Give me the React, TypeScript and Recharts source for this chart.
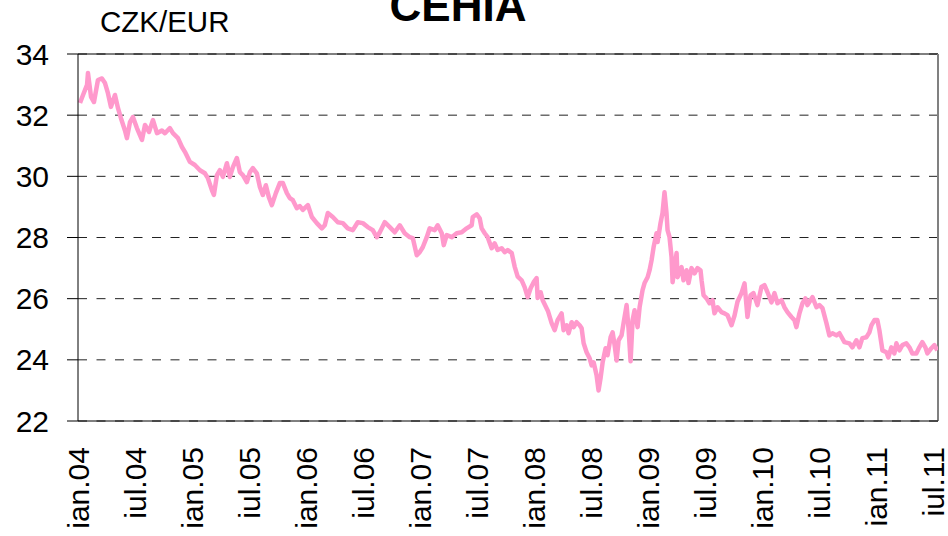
import { LineChart, Line, XAxis, YAxis, CartesianGrid, ReferenceLine } from 'recharts';

// months since ian.04 (fractional) and CZK per EUR
const months = [
  0.21, 0.53, 0.95, 1.05, 1.37, 1.68, 2.1, 2.52, 2.84, 3.15, 3.47, 3.89, 4.21, 4.52, 4.94, 5.15,
  5.47, 5.78, 6.2, 6.73, 7.05, 7.47, 7.89, 8.31, 8.83, 9.15, 9.67, 9.99, 10.52, 10.94, 11.25, 11.78,
  12.3, 12.83, 13.35, 13.67, 14.09, 14.3, 14.62, 14.93, 15.25, 15.67, 15.98, 16.3, 16.72, 17.03,
  17.35, 17.77, 18.09, 18.4, 18.82, 19.14, 19.45, 19.77, 20.08, 20.4, 20.82, 21.24, 21.56, 21.98,
  22.29, 22.61, 23.03, 23.34, 23.66, 24.19, 24.61, 25.13, 25.66, 25.97, 26.29, 26.81, 27.34, 27.87,
  28.39, 28.92, 29.44, 29.97, 30.49, 31.02, 31.44, 31.76, 32.28, 32.81, 33.33, 33.86, 34.38, 34.91,
  35.23, 35.65, 35.96, 36.28, 36.7, 37.01, 37.54, 37.85, 38.28, 38.49, 38.8, 39.33, 39.85, 40.38,
  40.9, 41.43, 41.54, 41.96, 42.27, 42.48, 42.8, 43.11, 43.53, 43.85, 44.16, 44.58, 44.9, 45.22,
  45.64, 45.95, 46.27, 46.69, 47.0, 47.32, 47.63, 47.95, 48.26, 48.37, 48.69, 48.9, 49.45, 49.84,
  50.16, 50.47, 50.89, 51.1, 51.42, 51.63, 51.95, 52.16, 52.47, 52.79, 53.0, 53.21, 53.52, 53.84,
  54.05, 54.26, 54.57, 54.78, 54.99, 55.21, 55.52, 55.73, 56.05, 56.26, 56.47, 56.68, 56.89, 57.2,
  57.41, 57.73, 57.94, 58.15, 58.36, 58.57, 58.89, 59.1, 59.41, 59.62, 59.94, 60.15, 60.36, 60.57,
  60.88, 60.99, 61.3, 61.51, 61.72, 61.93, 62.04, 62.25, 62.46, 62.57, 62.99, 63.09, 63.51, 63.72,
  64.04, 64.25, 64.56, 64.88, 65.19, 65.51, 65.62, 65.83, 66.14, 66.46, 66.77, 66.98, 67.3, 67.72,
  68.03, 68.35, 68.77, 69.09, 69.4, 69.82, 70.14, 70.45, 70.77, 71.08, 71.5, 71.92, 72.24, 72.56,
  72.98, 73.29, 73.61, 74.03, 74.34, 74.66, 75.08, 75.39, 75.6, 75.92, 76.24, 76.55, 76.76, 77.08,
  77.29, 77.71, 78.02, 78.34, 78.76, 79.07, 79.39, 79.81, 80.13, 80.65, 81.18, 81.49, 81.91, 82.23,
  82.54, 82.97, 83.28, 83.49, 83.81, 84.12, 84.33, 84.54, 84.65, 85.07, 85.28, 85.59, 85.91, 86.12,
  86.44, 86.75, 87.17, 87.49, 87.8, 88.22, 88.54, 88.85, 89.17, 89.38, 89.8, 90.12, 90.43,
];

const czkEur = [
  32.4, 32.66, 32.99, 33.38, 32.6, 32.43, 33.15, 33.2, 33.05, 32.72, 32.27, 32.66, 32.23, 31.9, 31.5, 31.25,
  31.77, 31.94, 31.58, 31.19, 31.68, 31.45, 31.84, 31.41, 31.5, 31.41, 31.58, 31.41, 31.25, 30.96, 30.8, 30.47,
  30.37, 30.2, 30.1, 29.94, 29.55, 29.39, 30.04, 30.2, 29.98, 30.43, 29.98, 30.3, 30.6, 30.14,
  30.04, 29.81, 30.14, 30.27, 30.1, 29.65, 29.39, 29.71, 29.32, 29.06, 29.45, 29.78, 29.78, 29.45,
  29.29, 29.22, 28.96, 29.03, 28.9, 29.06, 28.67, 28.47, 28.3, 28.4, 28.8, 28.67, 28.5, 28.47,
  28.3, 28.24, 28.5, 28.47, 28.34, 28.24, 28.01, 28.17, 28.5, 28.34, 28.17, 28.4, 28.14, 28.01,
  27.98, 27.42, 27.52, 27.68, 28.01, 28.3, 28.24, 28.4, 28.14, 27.75, 28.08, 28.01, 28.14, 28.17,
  28.3, 28.4, 28.67, 28.76, 28.63, 28.3, 28.14, 28.01, 27.65, 27.81, 27.59, 27.65, 27.52, 27.59,
  27.49, 27.05, 26.72, 26.6, 26.38, 26.05, 26.34, 26.54, 26.67, 26.02, 26.21, 25.95, 25.6, 25.2,
  24.97, 25.3, 25.52, 24.97, 25.13, 24.87, 25.23, 25.07, 25.23, 25.13, 25.03, 24.54, 24.25, 24.05,
  23.82, 23.92, 23.5, 23.0, 23.4, 23.92, 24.38, 24.15, 24.74, 24.9, 24.48, 23.98, 24.64, 24.8,
  25.2, 25.79, 25.0, 23.95, 25.3, 25.62, 25.07, 25.72, 26.28, 26.51, 26.7, 26.93, 27.26, 27.68,
  28.14, 27.85, 28.47, 28.8, 29.48, 28.8, 28.24, 28.01, 27.36, 26.54, 27.49, 26.7, 27.03, 26.6,
  26.93, 26.51, 27.0, 26.83, 27.0, 26.93, 26.6, 26.11, 26.01, 25.85, 25.95, 25.52, 25.72, 25.56,
  25.52, 25.46, 25.13, 25.45, 25.9, 26.18, 26.5, 25.4, 26.11, 26.18, 25.79, 26.38, 26.44, 26.21,
  25.88, 26.18, 25.85, 25.95, 25.72, 25.56, 25.4, 25.3, 25.07, 25.52, 25.85, 26.01, 25.79, 25.95,
  26.05, 25.72, 25.79, 25.69, 25.2, 24.8, 24.87, 24.8, 24.87, 24.58, 24.54, 24.41, 24.64, 24.41,
  24.71, 24.74, 24.9, 25.13, 25.3, 25.3, 24.97, 24.54, 24.31, 24.25, 24.08, 24.41, 24.21, 24.54,
  24.31, 24.48, 24.54, 24.41, 24.21, 24.21, 24.41, 24.58, 24.41, 24.21, 24.38, 24.48, 24.31,
];

const tickMonths = [0, 6, 12, 18, 24, 30, 36, 42, 48, 54, 60, 66, 72, 78, 84, 90];
const tickLabels = [
  'ian.04', 'iul.04', 'ian.05', 'iul.05', 'ian.06', 'iul.06', 'ian.07', 'iul.07',
  'ian.08', 'iul.08', 'ian.09', 'iul.09', 'ian.10', 'iul.10', 'ian.11', 'iul.11',
];
const rateTicks = [22, 24, 26, 28, 30, 32, 34];

const FONT = '"Liberation Sans", Arial, sans-serif';
const X_MAX = 90.5;

function MonthTick({ x, y, payload }: any) {
  const idx = tickMonths.indexOf(payload.value);
  return (
    <text
      x={x}
      y={y}
      transform={`rotate(-90 ${x} ${y})`}
      textAnchor="end"
      dy="0.36em"
      fontSize={30}
      fontFamily={FONT}
      fill="#000"
    >
      {idx >= 0 ? tickLabels[idx] : ''}
    </text>
  );
}

export default function App() {
  const data = months.map((m, i) => ({ m, rate: czkEur[i] }));

  return (
    <div style={{ position: 'absolute', left: 0, top: 0, width: 948, height: 536, background: '#fff' }}>
      <svg width={948} height={60} style={{ position: 'absolute', left: 0, top: 0 }}>
        <text x={458} y={21} textAnchor="middle" fontSize={44} fontWeight="bold" fontFamily={FONT} fill="#000">
          CEHIA
        </text>
        <text x={100} y={32} fontSize={29.5} fontFamily={FONT} fill="#000">
          CZK/EUR
        </text>
      </svg>
      <LineChart width={948} height={536} data={data} margin={{ top: 54, right: 10, bottom: 0, left: 0 }}>
        <CartesianGrid vertical={false} stroke="#222" strokeDasharray="9 9.5" />
        <XAxis
          dataKey="m"
          type="number"
          domain={[0, X_MAX]}
          ticks={tickMonths}
          allowDataOverflow
          height={115}
          tickLine={false}
          tickMargin={20}
          stroke="#000"
          tick={<MonthTick />}
          interval={0}
        />
        <YAxis
          domain={[22, 34]}
          ticks={rateTicks}
          width={78}
          tickSize={11}
          tickMargin={18}
          stroke="#000"
          tick={{ fontSize: 30, fontFamily: FONT, fill: '#000' }}
          allowDataOverflow
        />
        <ReferenceLine y={34} stroke="#000" strokeWidth={1} />
        <ReferenceLine x={X_MAX} stroke="#808080" strokeWidth={2} />
        <Line
          type="linear"
          dataKey="rate"
          stroke="#FF99CC"
          strokeWidth={4.5}
          strokeLinejoin="round"
          dot={false}
          isAnimationActive={false}
        />
      </LineChart>
    </div>
  );
}
